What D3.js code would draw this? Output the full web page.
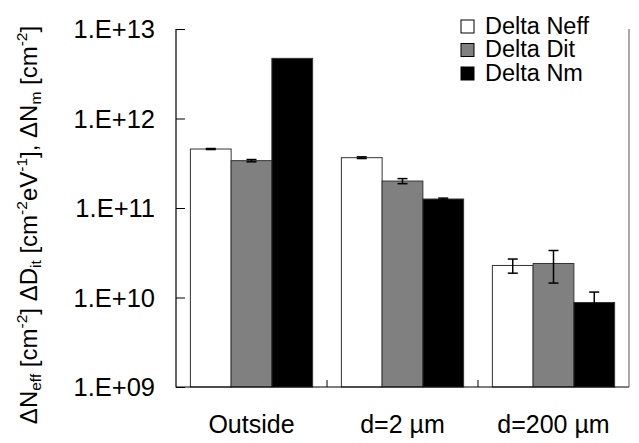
<!DOCTYPE html>
<html>
<head>
<meta charset="utf-8">
<script src="https://cdn.jsdelivr.net/npm/d3@7"></script>
<style>
  body { margin: 0; background: #fff; }
  svg { font-family: "Liberation Sans", Arial, sans-serif; }
</style>
</head>
<body>
<div id="chart"></div>
<script>
const categories = ["Outside", "d=2 \u00b5m", "d=200 \u00b5m"];
const seriesNames = ["Delta Neff", "Delta Dit", "Delta Nm"];
const seriesColors = ["#ffffff", "#808080", "#000000"];
const neff = [4.56e11, 3.65e11, 2.28e10];
const neffErr = [0.06e11, 0.08e11, 0.41e10];
const dit = [3.38e11, 2.0e11, 2.4e10];
const ditErr = [0.1e11, 0.13e11, 0.95e10];
const nm = [4.7e12, 1.26e11, 8.8e9];
const nmErr = [0, 0.03e11, 2.7e9];
const yTicks = [1e9, 1e10, 1e11, 1e12, 1e13];

const values = [neff, dit, nm];
const errors = [neffErr, ditErr, nmErr];

const width = 639, height = 443;
const margin = {top: 29, right: 10, bottom: 56, left: 176};
const innerW = width - margin.left - margin.right;
const innerH = height - margin.top - margin.bottom;

const svg = d3.select("#chart").append("svg")
  .attr("width", width)
  .attr("height", height);

const g = svg.append("g")
  .attr("transform", `translate(${margin.left},${margin.top})`);

const x0 = d3.scaleBand().domain(categories).range([0, innerW]);
const x1 = d3.scaleBand().domain(seriesNames)
  .range([0, x0.bandwidth()]).paddingOuter(0.353);
const y = d3.scaleLog().domain([1e9, 1e13]).range([innerH, 0]);

// bars
seriesNames.forEach((s, si) => {
  g.selectAll(".bar" + si)
    .data(categories)
    .enter().append("rect")
    .attr("x", c => x0(c) + x1(s))
    .attr("width", x1.bandwidth())
    .attr("y", (c, i) => y(values[si][i]))
    .attr("height", (c, i) => innerH - y(values[si][i]))
    .attr("fill", seriesColors[si])
    .attr("stroke", "#333")
    .attr("stroke-width", 1);
});

// error bars
seriesNames.forEach((s, si) => {
  categories.forEach((c, i) => {
    const e = errors[si][i];
    if (!e) return;
    const cx = x0(c) + x1(s) + x1.bandwidth() / 2;
    const hi = y(values[si][i] + e), lo = y(values[si][i] - e);
    const eg = g.append("g").attr("stroke", "#000").attr("stroke-width", 1.5);
    eg.append("line").attr("x1", cx).attr("x2", cx).attr("y1", hi).attr("y2", lo);
    eg.append("line").attr("x1", cx - 5).attr("x2", cx + 5).attr("y1", hi).attr("y2", hi);
    eg.append("line").attr("x1", cx - 5).attr("x2", cx + 5).attr("y1", lo).attr("y2", lo);
  });
});

// y axis (ticks inward)
const yAxis = g.append("g")
  .call(d3.axisRight(y).tickValues(yTicks).tickSize(9).tickFormat(""));
yAxis.select(".domain").remove();
yAxis.selectAll(".tick line").attr("stroke", "#000");

g.selectAll(".ylab")
  .data(yTicks)
  .enter().append("text")
  .attr("x", -21)
  .attr("y", d => y(d))
  .attr("dy", "0.36em")
  .attr("text-anchor", "end")
  .style("font-size", "25.5px")
  .text(d => "1.E+" + String(Math.round(Math.log10(d))).padStart(2, "0"));

// x axis category separators (ticks upward)
const sepX = categories.slice(1).map(c => x0(c));
g.selectAll(".sep")
  .data(sepX)
  .enter().append("line")
  .attr("x1", d => d).attr("x2", d => d)
  .attr("y1", innerH).attr("y2", innerH - 7)
  .attr("stroke", "#000");

g.selectAll(".xlab")
  .data(categories)
  .enter().append("text")
  .attr("x", c => x0(c) + x0.bandwidth() / 2)
  .attr("y", innerH + 46)
  .attr("text-anchor", "middle")
  .style("font-size", "25px")
  .text(c => c);

// frame: left, bottom, right
g.append("path")
  .attr("d", `M0,0V${innerH}H${innerW}`)
  .attr("fill", "none")
  .attr("stroke", "#000")
  .attr("stroke-width", 1.2);
g.append("line")
  .attr("x1", innerW).attr("x2", innerW)
  .attr("y1", 0).attr("y2", innerH)
  .attr("stroke", "#555")
  .attr("stroke-width", 1);

// legend
const legend = svg.append("g").attr("transform", "translate(461,20)");
seriesNames.forEach((s, i) => {
  const row = legend.append("g").attr("transform", `translate(0,${i * 23.5})`);
  row.append("rect")
    .attr("width", 13).attr("height", 13)
    .attr("fill", seriesColors[i])
    .attr("stroke", "#000").attr("stroke-width", 1);
  row.append("text")
    .attr("x", 24).attr("y", 13.5)
    .style("font-size", "23.5px")
    .text(s);
});

// y axis title
const title = svg.append("text")
  .attr("transform", "translate(37,225) rotate(-90)")
  .attr("text-anchor", "middle")
  .style("font-size", "24px");
const parts = [
  ["\u0394N", 0], ["eff", -1], [" [cm", 0], ["-2", 1], ["] \u0394D", 0], ["it", -1],
  [" [cm", 0], ["-2", 1], ["eV", 0], ["-1", 1], ["], \u0394N", 0], ["m", -1],
  [" [cm", 0], ["-2", 1], ["]", 0]
];
let shift = 0;
parts.forEach(([t, k]) => {
  const target = k === 1 ? -10 : k === -1 ? 4 : 0;
  title.append("tspan")
    .attr("dy", target - shift)
    .style("font-size", k === 0 ? "24px" : "15.5px")
    .text(t);
  shift = target;
});
</script>
</body>
</html>
